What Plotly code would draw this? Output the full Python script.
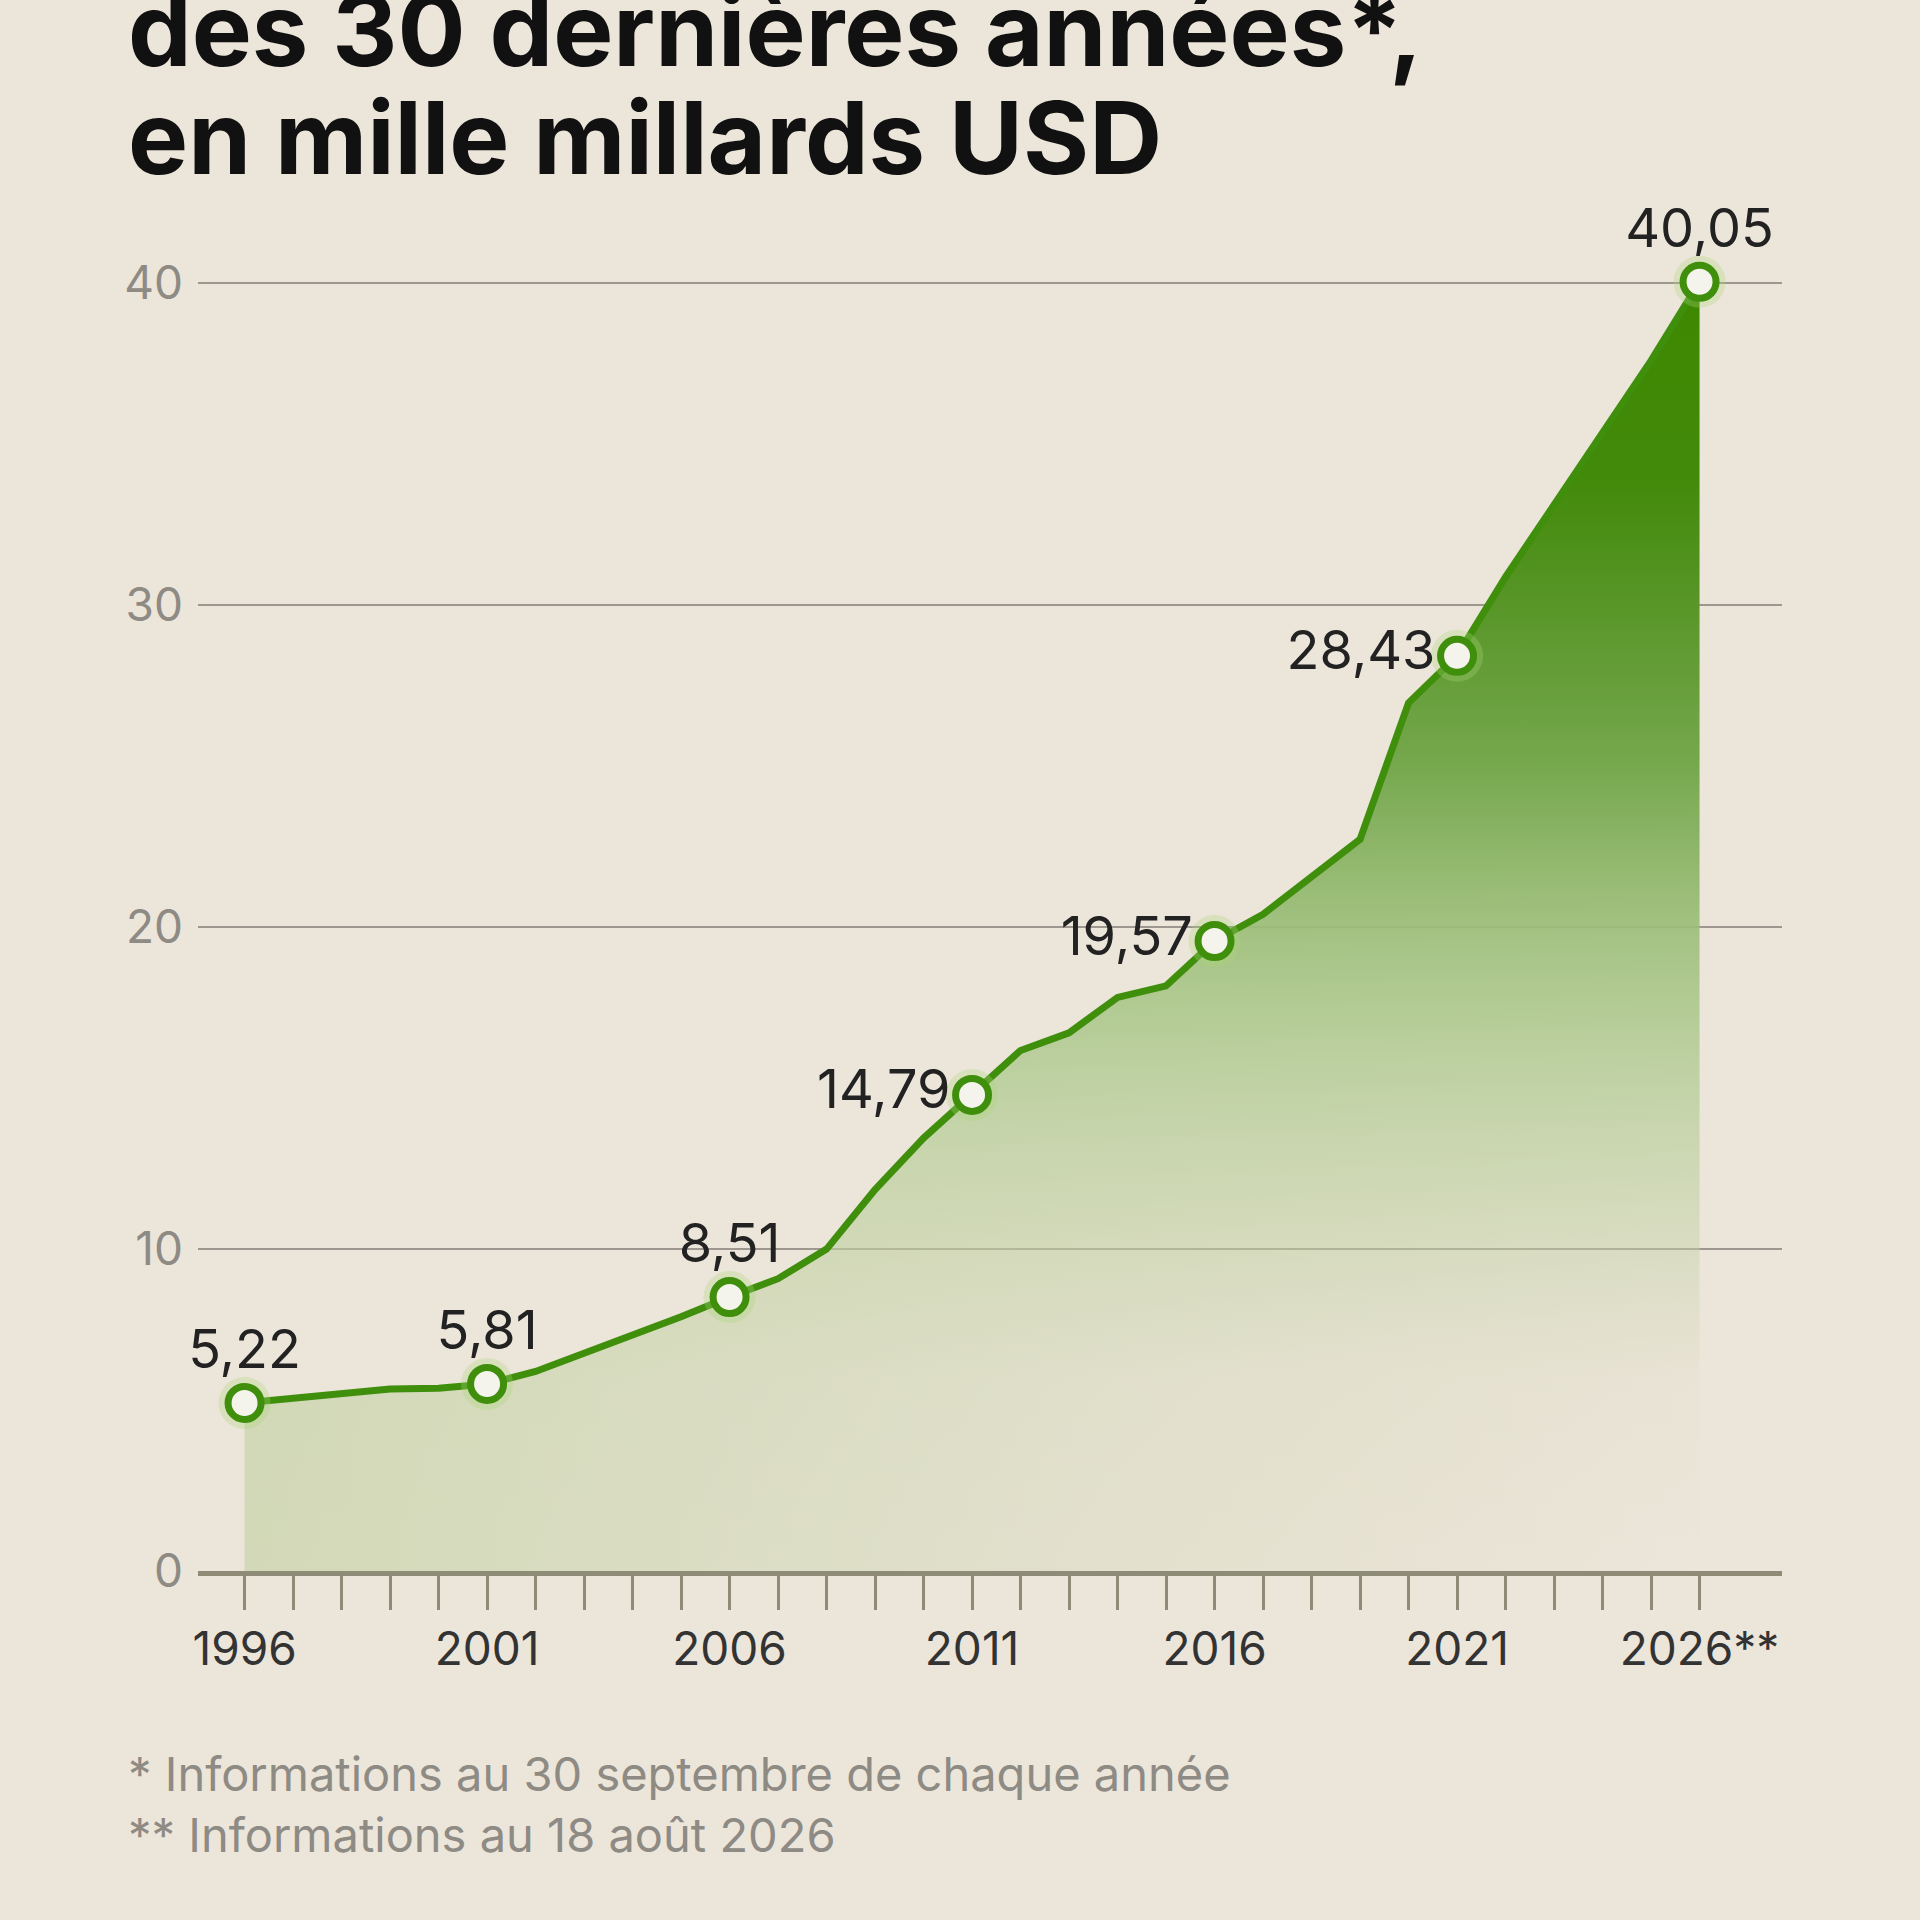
import plotly.graph_objects as go

# data
years = list(range(1996, 2027))
values = [5.22, 5.38, 5.52, 5.65, 5.68, 5.81, 6.20, 6.75, 7.35, 7.90,
          8.51, 9.08, 10.00, 11.85, 13.45, 14.79, 16.17, 16.72, 17.82, 18.18,
          19.57, 20.40, 21.56, 22.73, 26.97, 28.43, 30.88, 33.15, 35.40, 37.60,
          40.05]
label_years = [1996, 2001, 2006, 2011, 2016, 2021, 2026]
x_tick_text = ["1996", "2001", "2006", "2011", "2016", "2021", "2026**"]
y_ticks = [0, 10, 20, 30, 40]
title_lines = ["des 30 dernières années*,", "en mille millards USD"]
footnotes = ["* Informations au 30 septembre de chaque année",
             "** Informations au 18 août 2026"]

# page geometry (pixels)
W, H = 1920, 1920
M_L, M_R, M_T, M_B = 198, 138, 219, 349
PLOT_W = W - M_L - M_R
PLOT_H = H - M_T - M_B

BG = "#ECE5DA"
GREEN = "#3F8F0C"
FONT = "Inter"


def paper_xy(px, py):
    return (px - M_L) / PLOT_W, (H - M_B - py) / PLOT_H


label_values = [values[years.index(y)] for y in label_years]
label_text = [f"{v:.2f}".replace(".", ",") for v in label_values]
label_pos = ["middle left" if 2008 < y < 2024 else "top center" for y in label_years]
tick_text = [x_tick_text[label_years.index(y)] if y in label_years else "" for y in years]

fig = go.Figure()

# pale horizontal wash (greener on the left, fades to the right)
fig.add_trace(go.Scatter(
    x=years, y=values, mode="none", fill="tozeroy",
    fillgradient=dict(type="horizontal", start=1996, stop=2026,
                      colorscale=[[0, "rgba(185,205,150,0.5)"],
                                  [0.6, "rgba(185,205,150,0.18)"],
                                  [1, "rgba(185,205,150,0)"]]),
    hoverinfo="skip", showlegend=False))

# main vertical gradient fill + line
fig.add_trace(go.Scatter(
    x=years, y=values, mode="lines", fill="tozeroy",
    line=dict(color=GREEN, width=7),
    fillgradient=dict(type="vertical", start=0, stop=40,
                      colorscale=[[0, "rgba(200,215,170,0)"],
                                  [0.15, "rgba(200,212,170,0.1)"],
                                  [0.25, "rgba(195,210,165,0.45)"],
                                  [0.375, "rgba(180,205,150,0.75)"],
                                  [0.5, "rgba(155,190,120,0.9)"],
                                  [0.625, "rgba(118,168,78,1)"],
                                  [0.75, "rgba(88,150,40,1)"],
                                  [0.85, "rgb(66,138,10)"],
                                  [1, "rgb(62,136,0)"]]),
    hoverinfo="skip", showlegend=False))

# soft halo round the markers
fig.add_trace(go.Scatter(
    x=label_years, y=label_values, mode="markers",
    marker=dict(size=52, color="rgba(170,215,120,0.3)", line=dict(width=0)),
    hoverinfo="skip", showlegend=False))

fig.add_trace(go.Scatter(
    x=label_years, y=label_values, mode="markers+text",
    text=label_text, textposition=label_pos,
    textfont=dict(family=FONT, size=54, color="#222222"),
    marker=dict(size=33, color="#F4F4EC", line=dict(color=GREEN, width=7)),
    cliponaxis=False, showlegend=False))

fig.update_xaxes(
    range=[1995.04, 2027.7], tickvals=years, ticktext=tick_text,
    ticks="outside", ticklen=34, tickwidth=3, tickcolor="#8E8B77",
    showline=True, linecolor="#8E8B77", linewidth=5,
    showgrid=False, zeroline=False, ticklabelstandoff=0,
    tickfont=dict(family=FONT, size=46, color="#333333"))
fig.update_yaxes(
    range=[0, 42], tickvals=y_ticks, ticks="", showline=False,
    showgrid=True, gridcolor="#9E978F", gridwidth=2, zeroline=False,
    ticklabelstandoff=14,
    tickfont=dict(family=FONT, size=46, color="#8E8A84"))

annotations = []
for i, line in enumerate(title_lines):
    ax, ay = paper_xy(126, 29 + 108 * i)
    annotations.append(dict(
        x=ax, y=ay, xref="paper", yref="paper", xanchor="left", yanchor="middle",
        text=line, showarrow=False,
        font=dict(family=FONT, size=101, color="#111111", weight=700)))
for i, line in enumerate(footnotes):
    ax, ay = paper_xy(126, 1773 + 61 * i)
    annotations.append(dict(
        x=ax, y=ay, xref="paper", yref="paper", xanchor="left", yanchor="middle",
        text=line, showarrow=False,
        font=dict(family=FONT, size=47, color="#8E8A84")))

fig.update_layout(
    width=W, height=H, margin=dict(l=M_L, r=M_R, t=M_T, b=M_B),
    paper_bgcolor=BG, plot_bgcolor=BG, annotations=annotations,
    font=dict(family=FONT))

# drop the browser's default page margin so the figure fills the window
fig.write_html("out.html", config={"displayModeBar": False},
               post_script="document.body.style.margin='0';")
